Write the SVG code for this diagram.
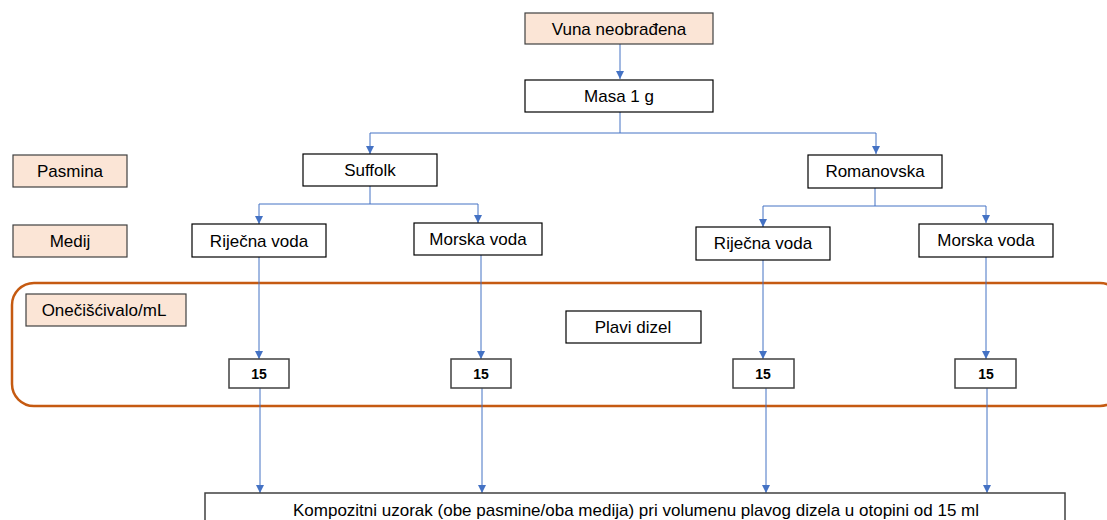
<svg xmlns="http://www.w3.org/2000/svg" width="1107" height="520" viewBox="0 0 1107 520">
<style>
.box{fill:#fff;stroke:#000;stroke-width:1.2}
.lbl{fill:#FBE5D6;stroke:#404040;stroke-width:1.2}
.num{fill:#fff;stroke:#404040;stroke-width:1.5}
.t{font-family:"Liberation Sans",Arial,sans-serif;font-size:17px;fill:#000;text-anchor:middle;dominant-baseline:central}
.b{font-family:"Liberation Sans",Arial,sans-serif;font-size:14px;font-weight:bold;fill:#000;text-anchor:middle;dominant-baseline:central}
.c{fill:none;stroke:#4472C4;stroke-width:1}
</style>
<defs>
<marker id="ah" viewBox="0 0 10 10" refX="10" refY="5" markerWidth="8" markerHeight="8" markerUnits="userSpaceOnUse" orient="auto">
<path d="M0,0 L10,5 L0,10 z" fill="#4472C4"/>
</marker>
</defs>
<rect id="group-frame" x="12" y="283" width="1110" height="123" rx="22" ry="22" fill="none" stroke="#C55A11" stroke-width="2.5"/>
<g id="connectors">
<path class="c" d="M620,44 V79" marker-end="url(#ah)"/>
<path class="c" d="M620,112 V133 H370 V154" marker-end="url(#ah)"/>
<path class="c" d="M620,133 H876 V154" marker-end="url(#ah)"/>
<path class="c" d="M370,186 V204 H259 V224" marker-end="url(#ah)"/>
<path class="c" d="M370,204 H478 V223" marker-end="url(#ah)"/>
<path class="c" d="M875,188 V206 H763 V227" marker-end="url(#ah)"/>
<path class="c" d="M875,206 H986 V223" marker-end="url(#ah)"/>
<path class="c" d="M259,257 V359" marker-end="url(#ah)"/>
<path class="c" d="M481,255 V359" marker-end="url(#ah)"/>
<path class="c" d="M763,260 V359" marker-end="url(#ah)"/>
<path class="c" d="M986,257 V359" marker-end="url(#ah)"/>
<path class="c" d="M260,388 V493" marker-end="url(#ah)"/>
<path class="c" d="M482,388 V493" marker-end="url(#ah)"/>
<path class="c" d="M766,388 V493" marker-end="url(#ah)"/>
<path class="c" d="M987,388 V493" marker-end="url(#ah)"/>
</g>
<g id="n-vuna"><rect class="lbl" x="525" y="13" width="188" height="31"/><text class="t" x="619" y="29">Vuna neobrađena</text></g>
<g id="n-masa"><rect class="box" x="525" y="80" width="188" height="32"/><text class="t" x="619" y="96">Masa 1 g</text></g>
<g id="n-pasmina"><rect class="lbl" x="13" y="155" width="114" height="32"/><text class="t" x="70" y="171">Pasmina</text></g>
<g id="n-medij"><rect class="lbl" x="13" y="225" width="114" height="32"/><text class="t" x="70" y="241">Medij</text></g>
<g id="n-suffolk"><rect class="box" x="303" y="154" width="134" height="32"/><text class="t" x="370" y="170">Suffolk</text></g>
<g id="n-romanovska"><rect class="box" x="808" y="155" width="134" height="33"/><text class="t" x="875" y="171">Romanovska</text></g>
<g id="n-rijecna1"><rect class="box" x="192" y="224" width="134" height="33"/><text class="t" x="259" y="241">Riječna voda</text></g>
<g id="n-morska1"><rect class="box" x="414" y="223" width="128" height="32"/><text class="t" x="478" y="239">Morska voda</text></g>
<g id="n-rijecna2"><rect class="box" x="696" y="227" width="134" height="33"/><text class="t" x="763" y="243">Riječna voda</text></g>
<g id="n-morska2"><rect class="box" x="919" y="224" width="134" height="33"/><text class="t" x="986" y="240">Morska voda</text></g>
<g id="n-onec"><rect class="lbl" x="26" y="294" width="160" height="32"/><text class="t" x="104" y="310">Onečišćivalo/mL</text></g>
<g id="n-plavi"><rect class="box" x="566" y="311" width="135" height="32"/><text class="t" x="633" y="327">Plavi dizel</text></g>
<g id="n-15a"><rect class="num" x="229" y="359" width="60" height="29"/><text class="b" x="259" y="374">15</text></g>
<g id="n-15b"><rect class="num" x="451" y="359" width="60" height="29"/><text class="b" x="481" y="374">15</text></g>
<g id="n-15c"><rect class="num" x="733" y="359" width="61" height="29"/><text class="b" x="763" y="374">15</text></g>
<g id="n-15d"><rect class="num" x="955" y="359" width="61" height="29"/><text class="b" x="986" y="374">15</text></g>
<g id="n-komp"><rect class="box" x="205" y="493" width="860" height="40" style="stroke:#404040;stroke-width:1.5"/><text class="t" x="636" y="510">Kompozitni uzorak (obe pasmine/oba medija) pri volumenu plavog dizela u otopini od 15 ml</text></g>
</svg>
